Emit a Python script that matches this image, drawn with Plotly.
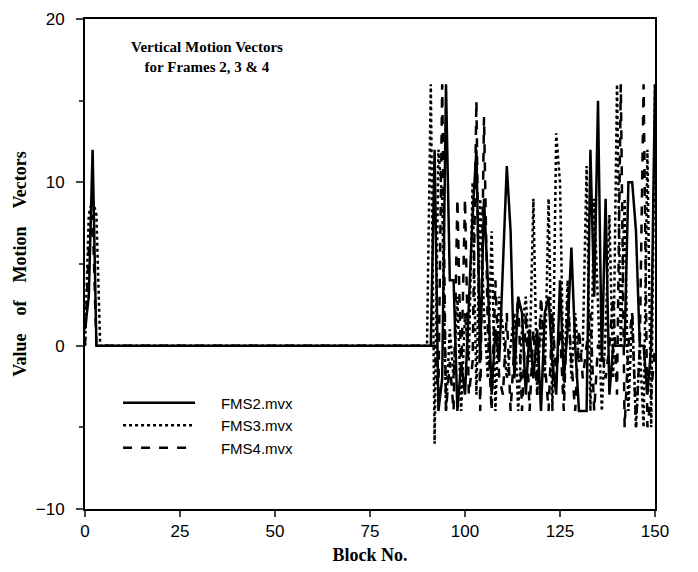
import plotly.graph_objects as go

blocks = list(range(0, 151))

fms2_head = [1, 3, 12, 0]
fms3_head = [0, 8, 9, 8, 0]
fms4_head = [0, 6, 8, 0]

# values for blocks 91..150
fms2_tail = [0, 12, -4, -2, 16, 4, 4, -4, -1, -3, 3, 8, 12, -1, 9, 4, -3, 1, -1, 5,
             11, 7, -2, 3, 2, -3, 1, -2, 1, -4, 2, 3, -1, -3, 4, -2, 1, 6, 0, -4,
             -4, -4, 12, 3, 15, -1, 9, -3, 0, 0, 0, 0, 10, 10, 7, 0, 0, -3, 0, 16]
fms3_tail = [16, -6, 12, 9, -4, 1, -2, 3, -4, 2, -1, 10, -3, 9, 2, -2, 7, -4, 3, 1,
             -2, 0, 2, -4, 1, 3, -1, 9, -3, 2, -2, 9, -4, 13, 10, -3, 4, -2, 2, -1,
             0, 11, -4, 9, 2, -4, 1, 8, -2, 16, 0, 9, -4, 2, -5, 0, -5, 12, -5, 16]
fms4_tail = [0, 0, -3, 16, -4, -1, -4, 9, -2, 9, -3, -1, 15, -4, 14, 1, -4, 4, -2, -3,
             2, -4, 0, 3, -4, 2, -4, 1, -3, 3, -1, -4, 2, -2, 1, -4, 3, -1, -4, 1,
             -2, 0, 2, -4, 0, 0, -2, 0, 3, -3, 16, -5, 0, 2, -5, 0, 16, -5, -3, 0]


def build(head, tail):
    return head + [0] * (91 - len(head)) + tail


fms2 = build(fms2_head, fms2_tail)
fms3 = build(fms3_head, fms3_tail)
fms4 = build(fms4_head, fms4_tail)

gap = "\u00a0" * 5
series = [(gap + "FMS2.mvx", fms2, "solid"), (gap + "FMS3.mvx", fms3, "dot"),
          (gap + "FMS4.mvx", fms4, "dash")]

serif = "Liberation Serif, Times New Roman"
sans = "Liberation Sans, Arial"

fig = go.Figure()
for name, vals, dash in series:
    fig.add_trace(go.Scatter(x=blocks, y=vals, mode="lines", name=name,
                             line=dict(color="black", width=2.5, dash=dash)))

sp = "\u00a0" * 4
fig.update_layout(
    width=698, height=572,
    margin=dict(l=85, r=43, t=10, b=47),
    paper_bgcolor="white", plot_bgcolor="white",
    font=dict(family=sans, size=17, color="black"),
    showlegend=True,
    legend=dict(x=0.058, y=0.25, xanchor="left", yanchor="top",
                bgcolor="rgba(0,0,0,0)", font=dict(size=15, family=sans),
                itemwidth=72, tracegroupgap=0),
    annotations=[dict(text="<b>Vertical Motion Vectors<br>for Frames 2, 3 &amp; 4</b>",
                      xref="paper", yref="paper", x=0.214, y=0.922,
                      xanchor="center", yanchor="middle", showarrow=False,
                      font=dict(family=serif, size=15))],
)
fig.update_xaxes(range=[0, 150], tickvals=[0, 25, 50, 75, 100, 125, 150],
                 showgrid=False, zeroline=False, showline=True, linecolor="black", linewidth=2,
                 mirror=True, ticks="outside", ticklen=6, tickwidth=2,
                 title=dict(text="<b>Block No.</b>", standoff=8,
                            font=dict(family=serif, size=18)))
fig.update_yaxes(range=[-10, 20], tickvals=[-10, 0, 10, 20],
                 showgrid=False, zeroline=False, showline=True, linecolor="black", linewidth=2,
                 mirror=True, ticks="outside", ticklen=7, tickwidth=2, ticklabelstandoff=8,
                 minor=dict(tickvals=[-5, 5, 15], ticks="outside", ticklen=4, tickwidth=1.5),
                 title=dict(text="<b>Value" + sp + "of" + sp + "Motion" + sp + "Vectors</b>",
                            standoff=4, font=dict(family=serif, size=18)))

fig.write_html("out.html", config={"displayModeBar": False},
               post_script="document.body.style.margin='0';")
